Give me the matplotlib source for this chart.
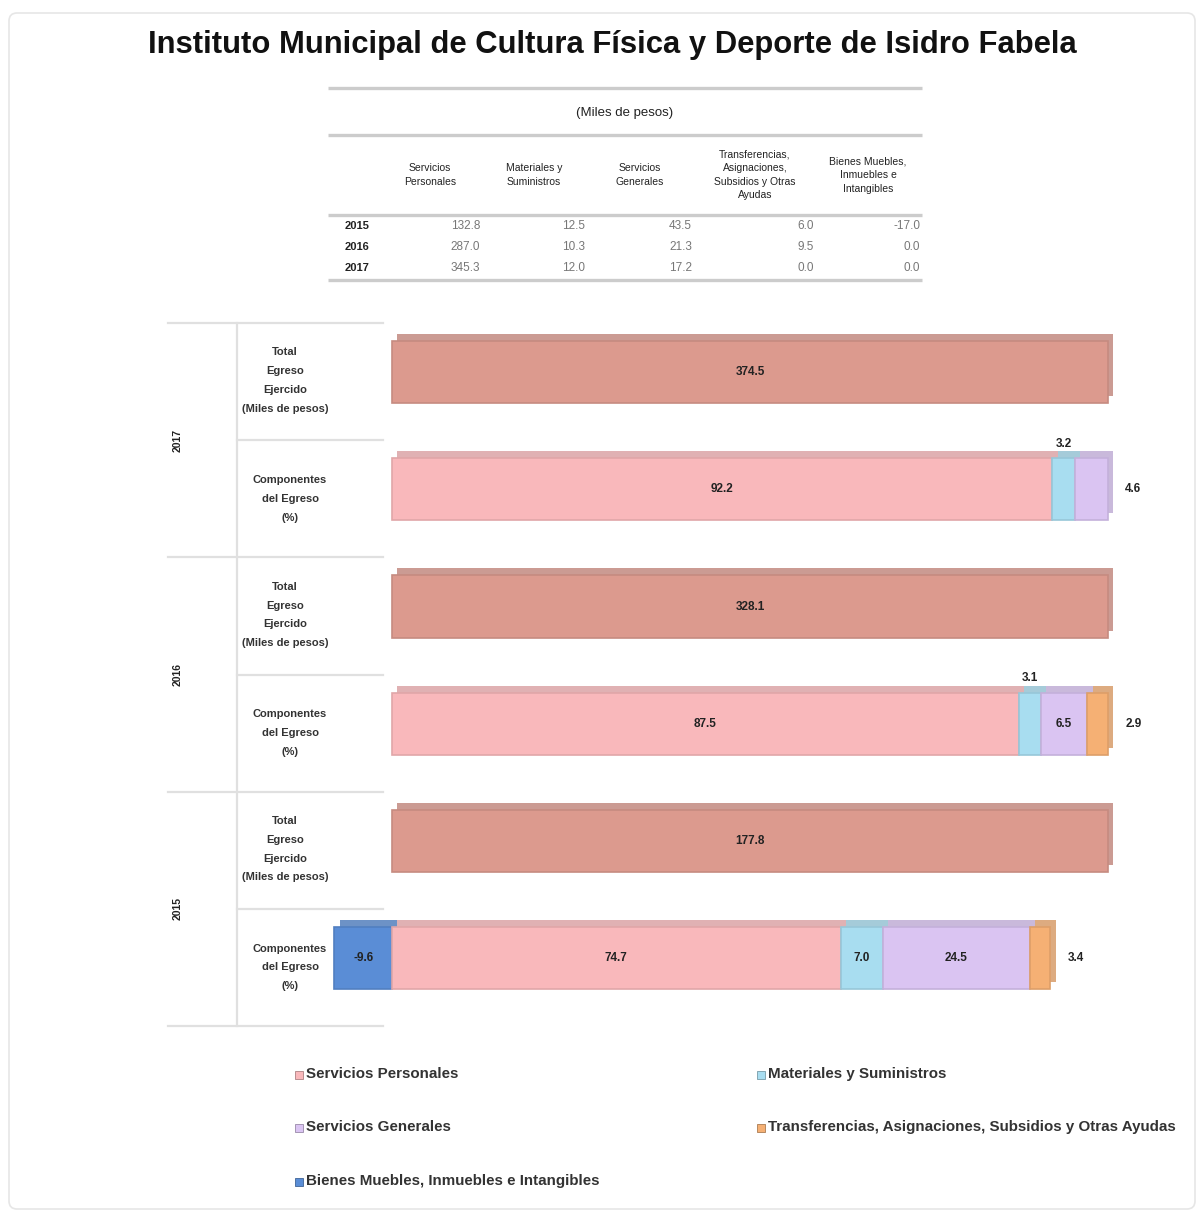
# Recreation of the Isidro Fabela expenditure chart
import numpy as np
import matplotlib.pyplot as plt
from matplotlib import font_manager
from matplotlib.patches import Rectangle, FancyBboxPatch

names = {f.name for f in font_manager.fontManager.ttflist}
narrow = 'Liberation Sans Narrow' if 'Liberation Sans Narrow' in names else 'Liberation Sans'

# --- data ---
title = 'Instituto Municipal de Cultura Física y Deporte de Isidro Fabela'

table_years = ['2015', '2016', '2017']
table_headers = ['Servicios\nPersonales', 'Materiales y\nSuministros', 'Servicios\nGenerales',
                 'Transferencias,\nAsignaciones,\nSubsidios y Otras\nAyudas',
                 'Bienes Muebles,\nInmuebles e\nIntangibles']
servicios_personales = [132.8, 287.0, 345.3]
materiales = [12.5, 10.3, 12.0]
servicios_generales = [43.5, 21.3, 17.2]
transferencias = [6.0, 9.5, 0.0]
bienes = [-17.0, 0.0, 0.0]

bar_years = ['2017', '2016', '2015']
totals = [374.5, 328.1, 177.8]
pct_sp = [92.2, 87.5, 74.7]
pct_ms = [3.2, 3.1, 7.0]
pct_sg = [4.6, 6.5, 24.5]
pct_tr = [0.0, 2.9, 3.4]
pct_bm = [0.0, 0.0, -9.6]

legend_labels = ['Servicios Personales', 'Materiales y Suministros', 'Servicios Generales',
                 'Transferencias, Asignaciones, Subsidios y Otras Ayudas',
                 'Bienes Muebles, Inmuebles e Intangibles']

# colours
c_total = '#DC9A8E'
c_sp = '#F9B8BB'
c_ms = '#A8DDF0'
c_sg = '#DAC4F2'
c_tr = '#F5B074'
c_bm = '#5A8DD6'


def darker(c, f=0.8):
    r, g, b = plt.matplotlib.colors.to_rgb(c)
    return (r * f, g * f, b * f)


def side(c):
    # greyish shade for the 3D top / right faces
    r, g, b = plt.matplotlib.colors.to_rgb(c)
    return (0.72 * r + 0.28 * 0.62, 0.72 * g + 0.28 * 0.62, 0.72 * b + 0.28 * 0.62)


fig = plt.figure(figsize=(12, 12.13), dpi=100)
bg = fig.add_axes([0, 0, 1, 1])
bg.set_xlim(0, 1200)
bg.set_ylim(1213, 0)
bg.axis('off')

# outer frame
bg.add_patch(FancyBboxPatch((9, 13), 1186, 1196, boxstyle='round,pad=0,rounding_size=8',
                            fill=False, ec='#E6E6E6', lw=1.2))

bg.text(612, 45, title, ha='center', va='center', fontsize=22.3, fontweight='bold',
        family='Liberation Sans', color='#111111')

# --- table ---
for yl in [88, 135, 215, 280]:
    bg.plot([328, 922], [yl, yl], color='#CCCCCC', lw=2.4, solid_capstyle='butt')
bg.text(625, 113, '(Miles de pesos)', ha='center', va='center', fontsize=9.5,
        family='Liberation Sans', color='#222222')
head_x = [430, 534, 640, 755, 868]
for hx, h in zip(head_x, table_headers):
    bg.text(hx, 175, h, ha='center', va='center', fontsize=7.5, family=narrow,
            color='#222222', linespacing=1.45)
val_x = [480, 585, 692, 814, 920]
cols = [servicios_personales, materiales, servicios_generales, transferencias, bienes]
for i, yr in enumerate(table_years):
    ry = 226 + 21 * i
    bg.text(345, ry, yr, ha='left', va='center', fontsize=8, fontweight='bold',
            family=narrow, color='#222222')
    for vx, col in zip(val_x, cols):
        bg.text(vx, ry, f'{col[i]:.1f}', ha='right', va='center', fontsize=8.5,
                family=narrow, color='#777777')

# --- left category grid ---
row_h = 117.17
top = 323
grid_c = '#E0E0E0'
for k in range(7):
    yl = top + row_h * k
    x0 = 168 if k % 2 == 0 else 237
    bg.plot([x0, 383], [yl, yl], color=grid_c, lw=1.6)
bg.plot([237, 237], [top, top + 6 * row_h], color=grid_c, lw=1.6)
for g, yr in enumerate(bar_years):
    bg.text(178, top + row_h * (2 * g + 1), yr, rotation=90, ha='center', va='center',
            fontsize=7.5, fontweight='bold', family=narrow, color='#222222')
    bg.text(285, top + row_h * (2 * g + 0.5) - 1, 'Total\nEgreso\nEjercido\n(Miles de pesos)',
            ha='center', va='center', fontsize=8, fontweight='bold', family=narrow,
            color='#333333', linespacing=2.1)
    bg.text(290, top + row_h * (2 * g + 1.5), 'Componentes\ndel Egreso\n(%)',
            ha='center', va='center', fontsize=8, fontweight='bold', family=narrow,
            color='#333333', linespacing=2.1)

# --- bars ---
ax = fig.add_axes([306.1 / 1200, 1 - 1026 / 1213, 873.5 / 1200, 703 / 1213])
ax.set_xlim(-12, 110)
ax.set_ylim(5.58, -0.42)
ax.axis('off')

bh = 0.53
dx, dy = 0.75, 0.06


def seg(y, left, width, color, label, pos):
    ax.barh(y - dy, width, left=left + dx, height=bh, color=side(color),
            edgecolor='none', zorder=1)
    ax.barh(y, width, left=left, height=bh, color=color, edgecolor=darker(color, 0.9),
            linewidth=1.2, zorder=2)
    if label is None:
        return
    kw = dict(fontsize=8.5, fontweight='bold', family=narrow, color='#222222', zorder=5)
    if pos == 'in':
        ax.text(left + width / 2, y, label, ha='center', va='center', **kw)
    elif pos == 'above':
        ax.text(left + width / 2, y - 0.39, label, ha='center', va='center', **kw)
    else:
        ax.text(left + width + 2.4, y, label, ha='left', va='center', **kw)


for g in range(3):
    y_tot = 2 * g
    y_cmp = 2 * g + 1
    seg(y_tot, 0, 100, c_total, f'{totals[g]:.1f}', 'in')

    comps = [(pct_sp[g], c_sp), (pct_ms[g], c_ms), (pct_sg[g], c_sg), (pct_tr[g], c_tr)]
    scale = 100 / (sum(abs(v) for v, _ in comps) + abs(pct_bm[g]))
    if pct_bm[g] < 0:
        w = abs(pct_bm[g]) * scale
        seg(y_cmp, -w, w, c_bm, f'{pct_bm[g]:.1f}', 'in')
    nonzero = [(v, c) for v, c in comps if v > 0]
    left = 0
    for j, (v, c) in enumerate(nonzero):
        w = v * scale
        if v >= 5:
            pos = 'in'
        elif j == len(nonzero) - 1:
            pos = 'right'
        else:
            pos = 'above'
        seg(y_cmp, left, w, c, f'{v:.1f}', pos)
        left += w

# --- legend ---
leg_colors = [c_sp, c_ms, c_sg, c_tr, c_bm]
leg_pos = [(295, 1074), (757, 1074), (295, 1127), (757, 1127), (295, 1181)]
for (lx, ly), lab, c in zip(leg_pos, legend_labels, leg_colors):
    bg.add_patch(Rectangle((lx, ly - 3), 8, 8, facecolor=c, edgecolor=darker(c, 0.7), lw=0.6))
    bg.text(lx + 11, ly, lab, ha='left', va='center', fontsize=10.9, family=narrow,
            fontweight='bold', color='#333333')

fig.savefig('out.png', dpi=100, facecolor='white')
